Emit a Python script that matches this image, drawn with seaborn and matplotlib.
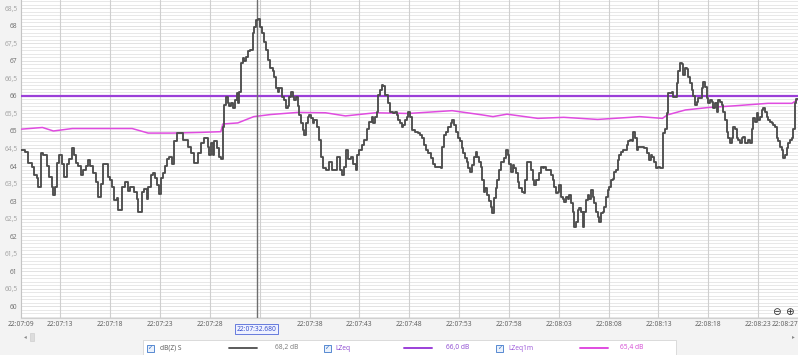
import numpy as np
import pandas as pd
import matplotlib
matplotlib.use("Agg")
import matplotlib.pyplot as plt
import seaborn as sns
from matplotlib.patches import Rectangle
from matplotlib.lines import Line2D

# ---------------- data (seconds after 22:07:00, dB) ----------------
time_s = [
    9.0, 9.2, 9.5, 9.7, 9.8, 10.2, 10.4, 10.7, 10.8, 11.1, 11.3, 11.7, 11.9, 12.2, 12.3, 12.5, 12.7, 12.9,
    13.2, 13.4, 13.7, 13.9, 14.2, 14.4, 14.6, 14.8, 15.1, 15.3, 15.6, 15.8, 16.0, 16.3, 16.6, 16.8, 17.1,
    17.3, 17.6, 17.8, 18.0, 18.2, 18.4, 18.7, 18.8, 19.1, 19.2, 19.5, 19.8, 20.0, 20.2, 20.4, 20.7, 20.8,
    21.1, 21.2, 21.4, 21.7, 21.8, 22.1, 22.3, 22.5, 22.7, 22.9, 23.1, 23.3, 23.5, 23.7, 23.9, 24.2, 24.4,
    24.7, 25.0, 25.3,
    25.8, 26.1, 26.4, 26.8, 27.1, 27.4, 27.8, 27.9, 28.1, 28.3, 28.4, 28.7, 28.9, 29.1, 29.3, 29.4, 29.6,
    29.8, 29.9, 30.1, 30.3, 30.5, 30.7, 30.8, 30.9, 31.1, 31.3, 31.4, 31.6, 31.8, 32.0, 32.3, 32.4, 32.6,
    32.8, 33.0, 33.2, 33.4, 33.6, 33.8, 34.0, 34.3, 34.4, 34.6, 34.8, 34.9, 35.2, 35.4, 35.6, 35.8, 35.9,
    36.1, 36.3, 36.4, 36.6, 36.8, 36.9, 37.1, 37.3, 37.4, 37.6, 37.8, 37.9, 38.1, 38.3, 38.4, 38.7, 38.9,
    39.1, 39.3, 39.6, 39.9,
    40.3, 40.6, 40.8, 41.1, 41.3, 41.5, 41.7, 41.9, 42.2, 42.4, 42.7, 42.8, 43.0, 43.3, 43.5, 43.8, 44.0,
    44.3, 44.4, 44.6, 44.8, 44.9, 45.1, 45.3, 45.4, 45.6, 45.8, 45.9, 46.1, 46.3, 46.4, 46.6, 46.8, 46.9,
    47.1, 47.3, 47.4, 47.6, 47.8, 47.9, 48.1, 48.3, 48.6, 48.9, 49.1, 49.3, 49.5, 49.7, 49.9, 50.2, 50.4,
    50.6, 50.9, 51.2, 51.3, 51.5, 51.7, 51.9, 52.2, 52.3, 52.5, 52.7, 52.9, 53.1, 53.3, 53.4, 53.6, 53.8,
    53.9, 54.1, 54.3, 54.5, 54.7, 54.8, 55.0, 55.2, 55.3, 55.5,
    55.6, 55.8, 56.0, 56.2, 56.3, 56.5, 56.7, 56.8, 57.0, 57.2, 57.3, 57.5, 57.7, 57.9, 58.0, 58.2, 58.4,
    58.5, 58.7, 58.9, 59.0, 59.3, 59.5, 59.6, 59.8, 60.0, 60.2, 60.4, 60.5, 60.7, 60.9, 61.0, 61.2, 61.4,
    61.5, 61.7, 61.9, 62.0, 62.2, 62.4, 62.5, 62.7, 62.9, 63.0, 63.2, 63.4, 63.5, 63.7, 63.9, 64.0, 64.2,
    64.4, 64.5, 64.7, 64.9, 65.0, 65.2, 65.4, 65.5, 65.7, 65.9, 66.0, 66.2, 66.4, 66.5, 66.7, 66.9, 67.0,
    67.2, 67.4, 67.5, 67.7, 67.9, 68.0, 68.2, 68.4, 68.5, 68.7, 68.9, 69.0, 69.2, 69.4, 69.6, 69.8, 69.9,
    70.1, 70.3, 70.4, 70.6, 70.8, 70.9, 71.1,
    71.4, 71.6, 71.9, 72.1, 72.3, 72.4, 72.6, 72.8, 73.0, 73.2, 73.4, 73.5, 73.7, 73.9, 74.0, 74.2, 74.4,
    74.5, 74.7, 74.9, 75.0, 75.2, 75.4, 75.5, 75.7, 75.9, 76.0, 76.2, 76.4, 76.5, 76.7, 76.9, 77.0, 77.2,
    77.4, 77.5, 77.7, 77.9, 78.0, 78.2, 78.4, 78.5, 78.7, 78.9, 79.0, 79.2, 79.4, 79.5, 79.7, 79.9, 80.0,
    80.2, 80.4, 80.5, 80.7, 80.9, 81.0, 81.2, 81.4, 81.5, 81.7, 82.0, 82.2, 82.4, 82.5, 82.7, 82.9, 83.0,
    83.2, 83.4, 83.5, 83.7, 83.9, 84.0, 84.2, 84.4, 84.5, 84.7, 84.9, 85.0, 85.2, 85.4, 85.5, 85.7, 85.9,
    86.0, 86.2, 86.4, 86.5, 86.7, 86.8, 87.0,
]
level_db = [
    64.46, 64.46, 64.41, 64.40, 64.09, 63.98, 63.74, 63.65, 63.41, 64.37, 64.30, 64.00, 63.70, 63.40, 63.17, 63.40, 64.09, 64.30,
    64.05, 63.70, 64.05, 64.20, 64.50, 64.30, 64.09, 64.00, 63.75, 63.90, 64.00, 64.17, 64.00, 63.80, 63.55, 63.12, 63.50,
    64.05, 64.05, 63.70, 63.60, 63.40, 63.03, 63.10, 62.74, 62.74, 63.40, 63.55, 63.30, 63.40, 63.40, 63.25, 63.05, 62.70,
    62.70, 63.25, 63.35, 63.05, 63.40, 63.74, 63.80, 63.65, 63.45, 63.20, 63.65, 63.80, 64.00, 64.20, 64.25, 64.05, 64.70,
    64.94, 64.94, 64.74,
    64.55, 64.37, 64.08, 64.37, 64.65, 64.80, 64.55, 64.30, 64.65, 64.30, 64.70, 64.50, 64.27, 64.20, 65.12, 65.74, 65.98,
    65.80, 65.70, 65.80, 65.66, 65.89, 66.08, 65.80, 66.10, 66.93, 67.08, 67.00, 67.12, 67.27, 67.30, 67.79, 67.98, 68.17,
    68.20, 67.98, 67.79, 67.55, 67.31, 67.03, 66.80, 66.72, 66.55, 66.22, 66.10, 66.22, 65.98, 65.89, 65.65, 65.70, 65.98,
    66.10, 65.98, 65.89, 65.98, 65.70, 65.46, 65.22, 65.03, 64.89, 65.22, 65.41, 65.46, 65.37, 65.22, 65.31, 65.12, 64.74,
    64.27, 63.94, 63.90, 64.12,
    63.89, 63.90, 64.27, 63.89, 63.74, 63.98, 64.46, 64.20, 64.27, 64.07, 63.89, 64.30, 64.46, 64.60, 64.74, 65.07, 65.27,
    65.41, 65.22, 65.41, 65.55, 66.03, 66.17, 66.31, 66.28, 66.03, 66.03, 65.79, 65.55, 65.55, 65.50, 65.55, 65.46, 65.31,
    65.22, 65.12, 65.17, 65.31, 65.41, 65.55, 65.41, 65.03, 64.98, 64.94, 64.89, 64.79, 64.60, 64.46, 64.37, 64.22, 64.07,
    63.98, 63.98, 63.93, 64.55, 64.89, 64.98, 65.12, 65.22, 65.31, 65.17, 64.98, 64.79, 64.70, 64.50, 64.37, 64.22, 64.12,
    63.93, 63.84, 64.03, 64.27, 64.41, 64.27, 64.12, 63.98, 63.60, 63.27,
    63.36, 63.17, 63.00, 62.84, 62.65, 63.10, 63.36, 63.60, 63.88, 64.12, 64.12, 64.22, 64.46, 64.30, 64.07, 63.84, 64.03,
    63.93, 63.79, 63.55, 63.36, 63.26, 63.22, 63.60, 64.12, 64.12, 63.88, 63.60, 63.45, 63.60, 63.60, 63.79, 63.98, 63.93,
    63.98, 63.88, 63.88, 63.88, 63.74, 63.60, 63.41, 63.22, 63.26, 63.45, 63.12, 63.07, 62.98, 63.12, 63.07, 63.17, 62.93,
    62.69, 62.26, 62.40, 62.74, 62.79, 62.69, 62.26, 62.69, 63.02, 63.17, 63.07, 63.31, 63.12, 62.93, 62.69, 62.55, 62.40,
    62.65, 62.69, 62.84, 63.12, 63.31, 63.41, 63.60, 63.64, 63.84, 63.88, 64.17, 64.30, 64.41, 64.46, 64.46, 64.60, 64.70,
    64.74, 64.70, 64.98, 64.79, 64.46, 64.55, 64.55,
    64.55, 64.50, 64.36, 64.17, 64.30, 64.27, 64.12, 63.93, 63.97, 63.93, 63.93, 64.93, 65.07, 65.50, 66.08, 66.08, 66.12,
    65.98, 65.98, 66.36, 66.70, 66.93, 66.90, 66.60, 66.79, 66.76, 66.55, 66.36, 66.17, 66.00, 65.74, 65.84, 65.94, 65.94,
    66.22, 66.41, 66.27, 65.94, 65.80, 65.89, 65.84, 65.65, 65.80, 65.55, 65.89, 65.84, 65.74, 65.55, 65.31, 64.98, 64.79,
    64.65, 64.79, 65.12, 65.07, 64.79, 64.74, 64.65, 64.79, 64.84, 64.65, 64.74, 64.65, 65.07, 65.36, 65.27, 65.50, 65.31,
    65.41, 65.60, 65.65, 65.55, 65.41, 65.31, 65.27, 65.22, 65.17, 65.12, 64.79, 64.70, 64.55, 64.46, 64.22, 64.30, 64.50,
    64.65, 64.74, 64.79, 65.07, 65.79, 65.90, 65.90,
]

lzeq1m_t = [9.0, 11.2, 12.3, 14.2, 17.2, 20.2, 21.2, 21.8, 24.2, 27.1, 29.1, 29.3, 30.8, 32.4, 34.1, 36.8,
            39.6, 41.6, 44.6, 47.9, 52.3, 55.3, 56.4, 57.8, 60.9, 63.5, 66.9, 70.2, 71.1, 73.4, 73.9, 75.7,
            78.0, 80.7, 84.0, 86.4, 87.0]
lzeq1m_db = [65.05, 65.10, 65.00, 65.07, 65.07, 65.07, 64.99, 64.94, 64.94, 64.96, 64.98, 65.20, 65.23, 65.41,
             65.47, 65.53, 65.52, 65.43, 65.52, 65.50, 65.58, 65.46, 65.41, 65.48, 65.36, 65.39, 65.33, 65.39,
             65.41, 65.36, 65.46, 65.60, 65.67, 65.72, 65.79, 65.79, 65.90]

lzeq_t = [9.0, 87.0]
lzeq_db = [66.0, 66.0]

xtick_s = [9, 13, 18, 23, 28, 38, 43, 48, 53, 58, 63, 68, 73, 78, 83, 87]
xtick_labels = ["22:07:09", "22:07:13", "22:07:18", "22:07:23", "22:07:28", "22:07:38", "22:07:43",
                "22:07:48", "22:07:53", "22:07:58", "22:08:03", "22:08:08", "22:08:13", "22:08:18",
                "22:08:23", "22:08:27"]
grid_s = [13, 18, 23, 28, 33, 38, 43, 48, 53, 58, 63, 68, 73, 78, 83]
cursor_s = 32.68
cursor_label = "22:07:32.680"
ytick_vals = [60, 60.5, 61, 61.5, 62, 62.5, 63, 63.5, 64, 64.5, 65, 65.5, 66, 66.5, 67, 67.5, 68, 68.5]

legend_names = ["dB(Z) S", "LZeq", "LZeq1m"]
legend_values = ["68,2 dB", "66,0 dB", "65,4 dB"]

# ---------------- style ----------------
sns.set_theme(style="white")
plt.rcParams['font.family'] = ['Open Sans', 'DejaVu Sans']

C_LEVEL = '#4d4d4d'
C_LZEQ = '#9b3fd8'
C_LZEQ1M = '#e04ce0'
FS = 4.8

W, H = 798, 355
fig = plt.figure(figsize=(W / 100, H / 100), dpi=100, facecolor='#f3f3f3')
ax_left, ax_bottom_px = 20.5, 318
ax = fig.add_axes([ax_left / W, 1 - ax_bottom_px / H, 1 - ax_left / W, ax_bottom_px / H])
ax.set_facecolor('white')

df_level = pd.DataFrame({"t": time_s, "db": level_db})
df_lzeq = pd.DataFrame({"t": lzeq_t, "db": lzeq_db})
df_1m = pd.DataFrame({"t": lzeq1m_t, "db": lzeq1m_db})

# grid
ax.set_yticks(np.arange(59.7, 68.75, 0.1), minor=True)
ax.grid(which='minor', axis='y', color='#e4e4e4', lw=0.6)
ax.grid(which='major', axis='y', color='#dddddd', lw=0.6)
for g in grid_s:
    ax.axvline(g, color='#cfcfcf', lw=0.8, zorder=1)
ax.axvline(cursor_s, color='#6e6e6e', lw=1.0, zorder=4)

sns.lineplot(data=df_lzeq, x="t", y="db", ax=ax, color=C_LZEQ, lw=1.6, estimator=None, sort=False, zorder=3)
sns.lineplot(data=df_1m, x="t", y="db", ax=ax, color=C_LZEQ1M, lw=1.1, estimator=None, sort=False, zorder=3)
sns.lineplot(data=df_level, x="t", y="db", ax=ax, color=C_LEVEL, lw=1.35, estimator=None, sort=False,
             drawstyle='steps-post', zorder=5)

ax.set_xlim(9.0, 87.0)
ax.set_ylim(59.66, 68.74)
ax.set_xlabel("")
ax.set_ylabel("")

ax.set_yticks(ytick_vals)
ax.set_yticklabels([(f"{v:g}").replace('.', ',') for v in ytick_vals])
for v, lab in zip(ytick_vals, ax.get_yticklabels()):
    lab.set_color('#6a6a6a' if float(v).is_integer() else '#a0a0a0')
ax.set_xticks(xtick_s)
ax.set_xticklabels(xtick_labels, color='#5a5a5a')
ax.get_xticklabels()[-1].set_horizontalalignment('right')
ax.tick_params(axis='y', length=0, pad=2.2, labelsize=FS)
ax.tick_params(axis='x', length=0, pad=2.5, labelsize=FS)
ax.tick_params(axis='y', which='minor', length=0)

for s in ['top', 'right']:
    ax.spines[s].set_visible(False)
ax.spines['left'].set_color('#c4c4c4')
ax.spines['left'].set_linewidth(0.8)
ax.spines['bottom'].set_color('#d0d0d0')
ax.spines['bottom'].set_linewidth(0.8)

# cursor time label
ax.text(cursor_s, -0.024, cursor_label, transform=ax.get_xaxis_transform(), ha='center', va='top',
        fontsize=FS, color='#3048c8',
        bbox=dict(boxstyle='square,pad=0.2', fc='#eef1ff', ec='#5068d8', lw=0.6))


def fx(x):
    return x / W


def fy(y):
    return 1 - y / H


# zoom icons
fig.text(fx(776), fy(312), "\u2296", fontsize=7.5, color='#333333', ha='center', va='center', family='DejaVu Sans')
fig.text(fx(789), fy(312), "\u2295", fontsize=7.5, color='#333333', ha='center', va='center', family='DejaVu Sans')

# scrollbar bits
fig.text(fx(25), fy(337), "\u25c2", fontsize=4, color='#888888', ha='center', va='center', family='DejaVu Sans')
fig.add_artist(Rectangle((fx(30), fy(341)), 4 / W, 8 / H, transform=fig.transFigure, fc='#dcdcdc', ec='#c8c8c8', lw=0.4))
fig.text(fx(793), fy(337), "\u25b8", fontsize=4, color='#888888', ha='center', va='center', family='DejaVu Sans')

# legend strip
fig.add_artist(Rectangle((fx(143), fy(357)), (676 - 143) / W, 17 / H, transform=fig.transFigure,
                         fc='white', ec='#d6d6d6', lw=0.6))
leg_y = fy(348)
items = [
    (150, 160, legend_names[0], '#555555', (229, 257), C_LEVEL, 1.3, 287, legend_values[0], '#777777'),
    (327, 335, legend_names[1], '#8a45d0', (404, 432), C_LZEQ, 1.4, 458, legend_values[1], '#8a45d0'),
    (500, 508, legend_names[2], '#9a55d8', (580, 608), C_LZEQ1M, 1.4, 632, legend_values[2], '#d448d4'),
]
for cb_x, name_x, name, name_c, (l0, l1), lc, lw, val_x, val, val_c in items:
    fig.add_artist(Rectangle((fx(cb_x - 3.5), fy(351.5)), 7 / W, 7 / H, transform=fig.transFigure,
                             fc='#eaf1fb', ec='#3f79cc', lw=0.6))
    fig.text(fx(cb_x), leg_y, "\u2713", fontsize=4.5, color='#2f6cc4', ha='center', va='center', family='DejaVu Sans')
    fig.text(fx(name_x), leg_y, name, fontsize=FS, color=name_c, ha='left', va='center')
    fig.add_artist(Line2D([fx(l0), fx(l1)], [leg_y, leg_y], transform=fig.transFigure, color=lc, lw=lw))
    fig.text(fx(val_x), leg_y, val, fontsize=FS, color=val_c, ha='center', va='center')

fig.savefig("out.png", dpi=100, facecolor=fig.get_facecolor())
